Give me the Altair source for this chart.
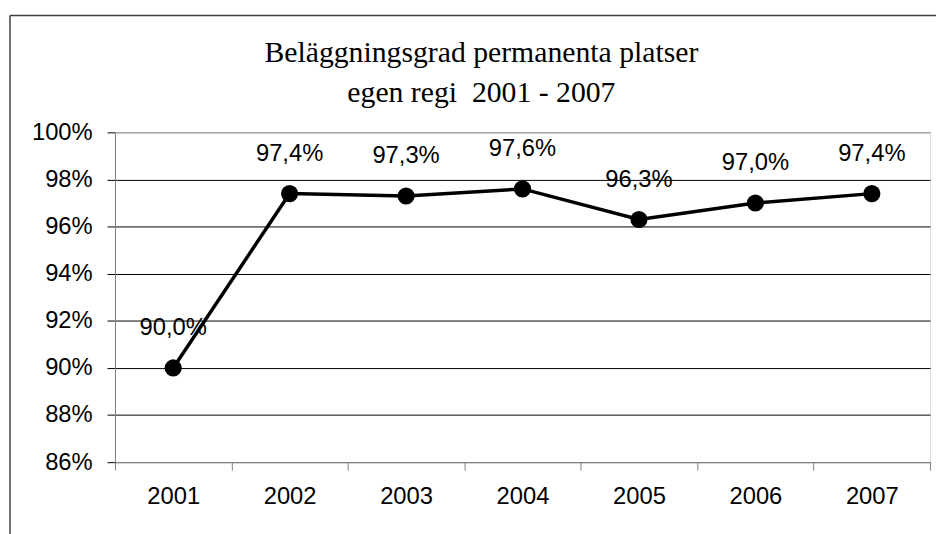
import altair as alt
import pandas as pd

years = ["2001", "2002", "2003", "2004", "2005", "2006", "2007"]
values = [0.900, 0.974, 0.973, 0.976, 0.963, 0.970, 0.974]
labels = ["90,0%", "97,4%", "97,3%", "97,6%", "96,3%", "97,0%", "97,4%"]
y_ticks = [0.86, 0.88, 0.90, 0.92, 0.94, 0.96, 0.98, 1.00]
title_lines = ["Beläggningsgrad permanenta platser", "egen regi\u00a0 2001 - 2007"]

df = pd.DataFrame({"year": years, "value": values, "label": labels})

W, H = 823, 333
SANS = "Liberation Sans"

x = alt.X(
    "year:N", sort=years, title=None,
    scale=alt.Scale(type="band", paddingInner=0, paddingOuter=0),
    axis=alt.Axis(labelAngle=0, tickBand="extent", tickSize=8, tickColor="#808080",
                  domainColor="#808080", labelFont=SANS, labelFontSize=24,
                  labelColor="black", labelPadding=15, grid=False),
)
y = alt.Y(
    "value:Q", title=None,
    scale=alt.Scale(domain=[0.86, 1.0], nice=False, zero=False),
    axis=alt.Axis(values=y_ticks, format=".0%", tickSize=8, tickColor="black",
                  domainColor="#808080", labelFont=SANS, labelFontSize=24,
                  labelColor="black", labelPadding=15,
                  gridColor=alt.condition("datum.value > 0.999 || datum.value < 0.861",
                                          alt.value("#808080"), alt.value("black")),
                  gridWidth=1),
)

base = alt.Chart(df)
line = base.mark_line(color="black", strokeWidth=3.5).encode(x=x, y=y)
pts = base.mark_point(filled=True, shape="circle", size=300, color="black", opacity=1).encode(x=x, y=y)
txt = base.mark_text(font=SANS, fontSize=24, color="black", baseline="middle", dy=-40).encode(
    x=x, y=y, text="label:N")

one = pd.DataFrame({"a": [0]})
frame_v = alt.Chart(one).mark_rule(color="#404040", strokeWidth=1.5).encode(
    x=alt.value(-106), y=alt.value(-118), y2=alt.value(430))
frame_h = alt.Chart(one).mark_rule(color="#404040", strokeWidth=1.5).encode(
    x=alt.value(-106), x2=alt.value(850), y=alt.value(-118))
title = alt.Chart(one).mark_text(
    text=title_lines, font="Liberation Serif", fontSize=30, color="black",
    align="center", baseline="top", lineHeight=40,
).encode(x=alt.value(370), y=alt.value(-95))

chart = alt.layer(frame_v, frame_h, title, line, pts, txt).properties(
    width=W, height=H,
    autosize="none",
    padding={"left": 108, "top": 123, "right": 6, "bottom": 75},
).configure_view(stroke="#808080", strokeWidth=1).configure(background="white")

chart.save("out.html", embed_options={"renderer": "svg", "actions": False})
